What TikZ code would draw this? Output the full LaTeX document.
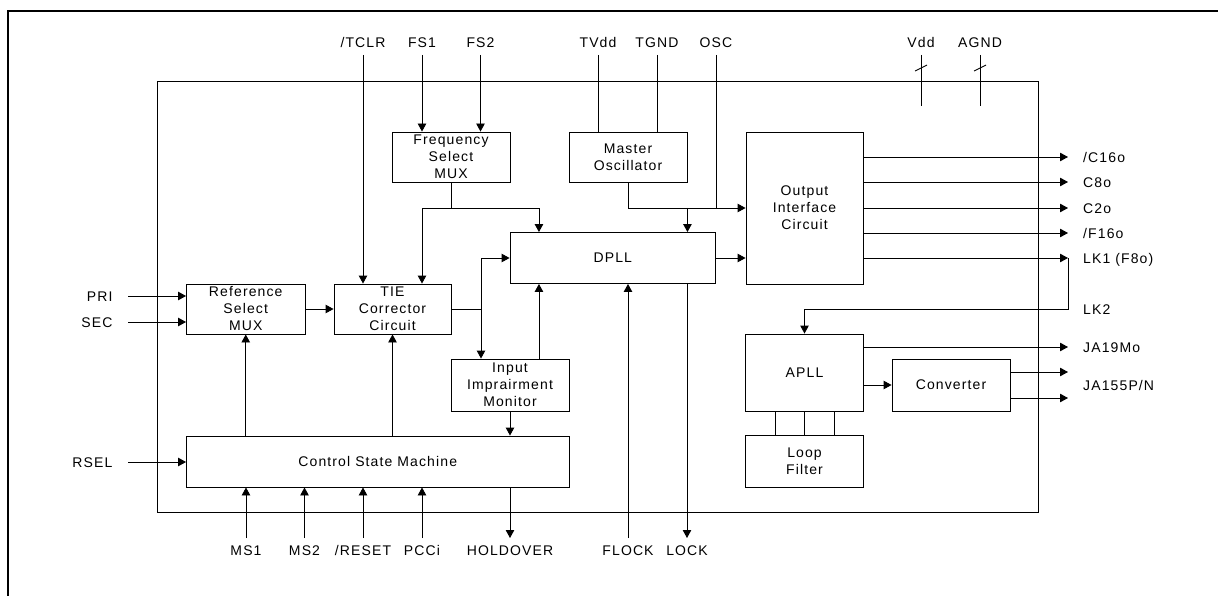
\documentclass[tikz,border=0pt]{standalone}
\usepackage{fontspec}
\newfontfamily\diafont{Liberation Sans}[LetterSpace=8]
\newcommand\diatext{\diafont\fontsize{14}{17}\selectfont}
\usetikzlibrary{arrows.meta}

\tikzset{
  wire/.style={line width=0.9pt},
  arr/.style={-{Triangle[length=8pt,width=8.5pt]}},
  blk/.style={draw, line width=0.9pt, inner sep=0pt, align=center, font=\diatext},
  pin/.style={inner sep=0pt, font=\diatext},
}

\begin{document}
\begin{tikzpicture}[x=1pt, y=-1pt, line join=miter]
      \useasboundingbox (0,0) rectangle (1218,596);

      \coordinate (tclr) at (363,55);
      \coordinate (fs1) at (422,55);
      \coordinate (fs2) at (480.5,55);
      \coordinate (tvdd) at (598,55);
      \coordinate (tgnd) at (657,55);
      \coordinate (osc) at (716,55);
      \coordinate (vdd) at (921,55);
      \coordinate (agnd) at (980,55);
      \coordinate (pri) at (128,296);
      \coordinate (sec) at (128,322);
      \coordinate (rsel) at (128,462);
      \coordinate (ms1) at (246,538);
      \coordinate (ms2) at (304.5,538);
      \coordinate (reset) at (363,538);
      \coordinate (pcci) at (422,538);
      \coordinate (hold) at (510,538);
      \coordinate (flock) at (628,538);
      \coordinate (lock) at (687,538);
      \coordinate (c16o) at (1068,157);
      \coordinate (c8o) at (1068,182);
      \coordinate (c2o) at (1068,208);
      \coordinate (f16o) at (1068,233);
      \coordinate (lk1) at (1068,258);
      \coordinate (lk2) at (1068,309);
      \coordinate (ja19) at (1068,347);
      \coordinate (ja155a) at (1068,372);
      \coordinate (ja155) at (1068,385.5);
      \coordinate (ja155b) at (1068,398);
      \coordinate (fsj) at (451,208);
      \coordinate (tiej) at (481,309);

      \draw[line width=2pt] (8,596) -- (8,11) -- (1218,11);
      \draw[wire] (157.5,81) rectangle (1038.7,512);

      \node[blk, minimum width=118pt, minimum height=50pt] (fsmux) at (451,157) {Frequency\\Select\\MUX};
      \node[blk, minimum width=118pt, minimum height=50pt] (mosc) at (628,157) {Master\\Oscillator};
      \node[blk, minimum width=117pt, minimum height=152pt] (oic) at (804.5,208) {Output\\Interface\\Circuit};
      \node[blk, minimum width=205.5pt, minimum height=51pt] (dpll) at (612.75,258) {DPLL};
      \node[blk, minimum width=118.5pt, minimum height=50pt] (refmux) at (245.75,309) {Reference\\Select\\MUX};
      \node[blk, minimum width=117pt, minimum height=50pt] (tie) at (392.5,309) {TIE\\Corrector\\Circuit};
      \node[blk, minimum width=118pt, minimum height=52pt] (iim) at (510,385) {Input\\Imprairment\\Monitor};
      \node[blk, minimum width=382.5pt, minimum height=51pt] (csm) at (377.75,461.5) {Control State Machine};
      \node[blk, minimum width=118pt, minimum height=77pt] (apll) at (804.5,372.5) {APLL};
      \node[blk, minimum width=118pt, minimum height=52pt] (conv) at (951,385) {Converter};
      \node[blk, minimum width=118pt, minimum height=52pt] (lpf) at (804.5,461) {Loop\\Filter};

      \draw[wire, arr] (tclr) -- (tclr |- tie.north);
      \draw[wire, arr] (fs1) -- (fs1 |- fsmux.north);
      \draw[wire, arr] (fs2) -- (fs2 |- fsmux.north);
      \draw[wire] (tvdd) -- (tvdd |- mosc.north);
      \draw[wire] (tgnd) -- (tgnd |- mosc.north);
      \draw[wire] (osc) -- (osc |- oic.west);
      \foreach \p in {vdd,agnd} {
        \draw[wire] (\p) -- ++(0,51);
        \draw[wire] ([shift={(-6,16)}]\p) -- ([shift={(6,10)}]\p);
      }

      \draw[wire] (fsmux.south) -- (fsj);
      \draw[wire, arr] (fsj) -| (fs1 |- tie.north);
      \draw[wire, arr] (fsj) -| ([xshift=29.4pt]dpll.north west);
      \draw[wire, arr] (mosc.south) |- (oic.west);
      \draw[wire, arr] (mosc.south east |- oic.west) -- (mosc.south east |- dpll.north);
      \draw[wire, arr] (dpll.east) -- (dpll.east -| oic.west);
      \foreach \o in {c16o,c8o,c2o,f16o,lk1}
        \draw[wire, arr] (oic.east |- \o) -- (\o);
      \draw[wire, arr] (lk1) -- (lk2) -| (apll.north);
      \draw[wire, arr] (apll.east |- ja19) -- (ja19);
      \draw[wire, arr] (apll.east |- conv.west) -- (conv.west);
      \draw[wire, arr] (conv.east |- ja155a) -- (ja155a);
      \draw[wire, arr] (conv.east |- ja155b) -- (ja155b);
      \foreach \dx in {-29.5,0,29.5}
        \draw[wire] ([xshift=\dx pt]apll.south) -- ([xshift=\dx pt]lpf.north);

      \draw[wire, arr] (pri) -- (pri -| refmux.west);
      \draw[wire, arr] (sec) -- (sec -| refmux.west);
      \draw[wire, arr] (rsel) -- (rsel -| csm.west);
      \draw[wire, arr] (refmux.east) -- (tie.west);
      \draw[wire] (tie.east) -- (tiej);
      \draw[wire, arr] (tiej) |- (dpll.west);
      \draw[wire, arr] (tiej) -- (tiej |- iim.north);
      \draw[wire, arr] ([xshift=29.4pt]dpll.south west |- iim.north) -- ([xshift=29.4pt]dpll.south west);
      \draw[wire, arr] (iim.south) -- (iim.south |- csm.north);
      \draw[wire, arr] (refmux.south |- csm.north) -- (refmux.south);
      \draw[wire, arr] (tie.south |- csm.north) -- (tie.south);
      \foreach \p in {ms1,ms2,reset,pcci}
        \draw[wire, arr] (\p) -- (\p |- csm.south);
      \draw[wire, arr] (hold |- csm.south) -- (hold);
      \draw[wire, arr] (flock) -- (flock |- dpll.south);
      \draw[wire, arr] (lock |- dpll.south) -- (lock);

      \node[pin, anchor=base] (ltclr) at ([yshift=7.7pt]tclr) {/TCLR};
      \node[pin, anchor=base] (lfs1) at ([yshift=7.7pt]fs1) {FS1};
      \node[pin, anchor=base] (lfs2) at ([yshift=7.7pt]fs2) {FS2};
      \node[pin, anchor=base] (ltvdd) at ([yshift=7.7pt]tvdd) {TVdd};
      \node[pin, anchor=base] (ltgnd) at ([yshift=7.7pt]tgnd) {TGND};
      \node[pin, anchor=base] (losc) at ([yshift=7.7pt]osc) {OSC};
      \node[pin, anchor=base] (lvdd) at ([yshift=7.7pt]vdd) {Vdd};
      \node[pin, anchor=base] (lagnd) at ([yshift=7.7pt]agnd) {AGND};

      \node[pin, anchor=base east] (lpri) at ([xshift=-15.4pt, yshift=-5.2pt]pri) {PRI};
      \node[pin, anchor=base east] (lsec) at ([xshift=-15.4pt, yshift=-5.2pt]sec) {SEC};
      \node[pin, anchor=base east] (lrsel) at ([xshift=-15.4pt, yshift=-5.2pt]rsel) {RSEL};

      \node[pin, anchor=base] (lms1) at ([yshift=-17.7pt]ms1) {MS1};
      \node[pin, anchor=base] (lms2) at ([yshift=-17.7pt]ms2) {MS2};
      \node[pin, anchor=base] (lreset) at ([yshift=-17.7pt]reset) {/RESET};
      \node[pin, anchor=base] (lpcci) at ([yshift=-17.7pt]pcci) {PCCi};
      \node[pin, anchor=base] (lhold) at ([yshift=-17.7pt]hold) {HOLDOVER};
      \node[pin, anchor=base] (lflock) at ([yshift=-17.7pt]flock) {FLOCK};
      \node[pin, anchor=base] (llock) at ([yshift=-17.7pt]lock) {LOCK};

      \node[pin, anchor=base west] (lc16o) at ([xshift=15pt, yshift=-5.2pt]c16o) {/C16o};
      \node[pin, anchor=base west] (lc8o) at ([xshift=15pt, yshift=-5.2pt]c8o) {C8o};
      \node[pin, anchor=base west] (lc2o) at ([xshift=15pt, yshift=-5.2pt]c2o) {C2o};
      \node[pin, anchor=base west] (lf16o) at ([xshift=15pt, yshift=-5.2pt]f16o) {/F16o};
      \node[pin, anchor=base west] (llk1) at ([xshift=15pt, yshift=-5.2pt]lk1) {LK1 (F8o)};
      \node[pin, anchor=base west] (llk2) at ([xshift=15pt, yshift=-5.2pt]lk2) {LK2};
      \node[pin, anchor=base west] (lja19) at ([xshift=15pt, yshift=-5.2pt]ja19) {JA19Mo};
      \node[pin, anchor=base west] (lja155) at ([xshift=15pt, yshift=-5.2pt]ja155) {JA155P/N};
    \end{tikzpicture}
\end{document}
